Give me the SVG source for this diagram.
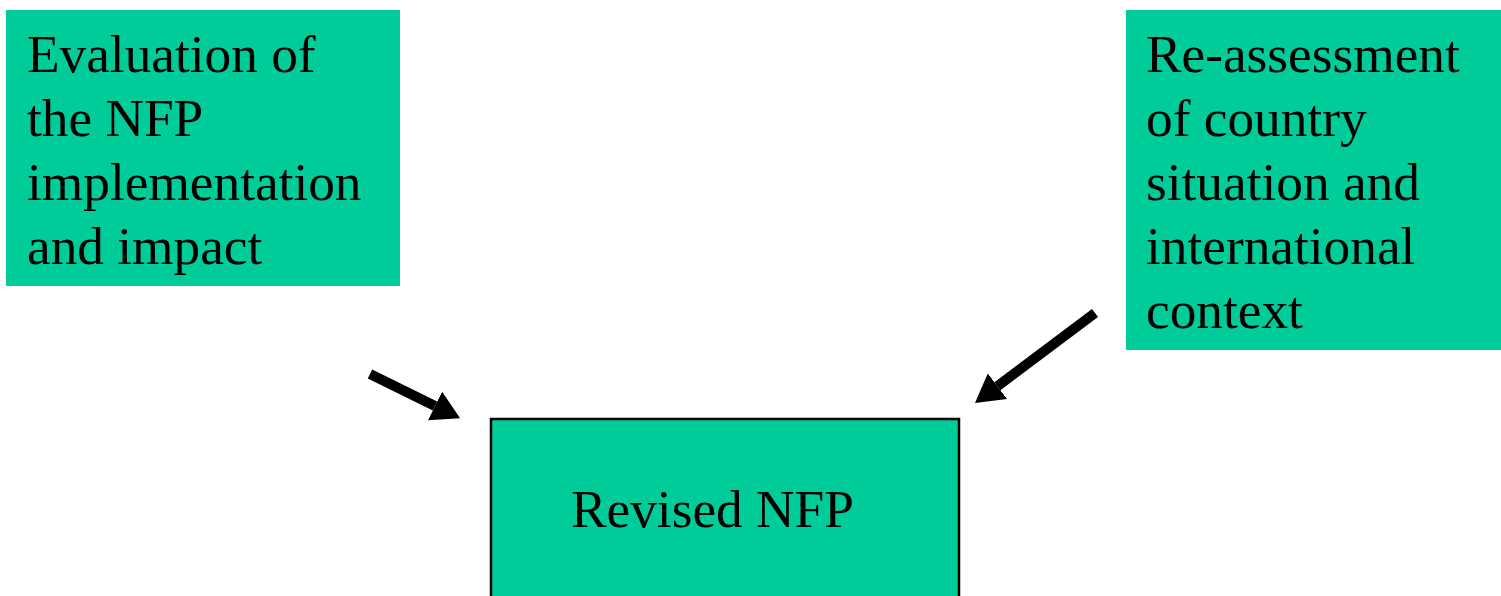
<svg xmlns="http://www.w3.org/2000/svg" width="1501" height="596" viewBox="0 0 1501 596">
<style>
.box{fill:#00CC99}
.t{font-family:"Liberation Serif","Times New Roman",serif;font-size:53.3px;fill:#000}
.arr{stroke:#000;stroke-width:10;fill:none;marker-end:url(#ah)}
</style>
<defs>
<marker id="ah" markerUnits="userSpaceOnUse" viewBox="0 0 28 32" refX="0" refY="16" markerWidth="28" markerHeight="32" orient="auto">
<path d="M0,0 L28,16 L0,32 Z" fill="#000"/>
</marker>
</defs>
<rect width="1501" height="596" fill="#fff"/>
<g id="node-evaluation">
<rect class="box" x="6" y="10" width="394" height="276"/>
<text class="t" x="27" y="72">Evaluation of</text>
<text class="t" x="27" y="136">the NFP</text>
<text class="t" x="27" y="200">implementation</text>
<text class="t" x="27" y="264">and impact</text>
</g>
<g id="node-reassessment">
<rect class="box" x="1126" y="10" width="375" height="340"/>
<text class="t" x="1146" y="72">Re-assessment</text>
<text class="t" x="1146" y="136">of country</text>
<text class="t" x="1146" y="200">situation and</text>
<text class="t" x="1146" y="264">international</text>
<text class="t" x="1146" y="328">context</text>
</g>
<g id="node-revised">
<rect class="box" x="491" y="419" width="468" height="190" stroke="#000" stroke-width="2.5"/>
<text class="t" x="571" y="527">Revised NFP</text>
</g>
<g id="connectors">
<line class="arr" x1="370" y1="374" x2="435" y2="406"/>
<line class="arr" x1="1095" y1="313" x2="997.4" y2="386.2"/>
</g>
</svg>
